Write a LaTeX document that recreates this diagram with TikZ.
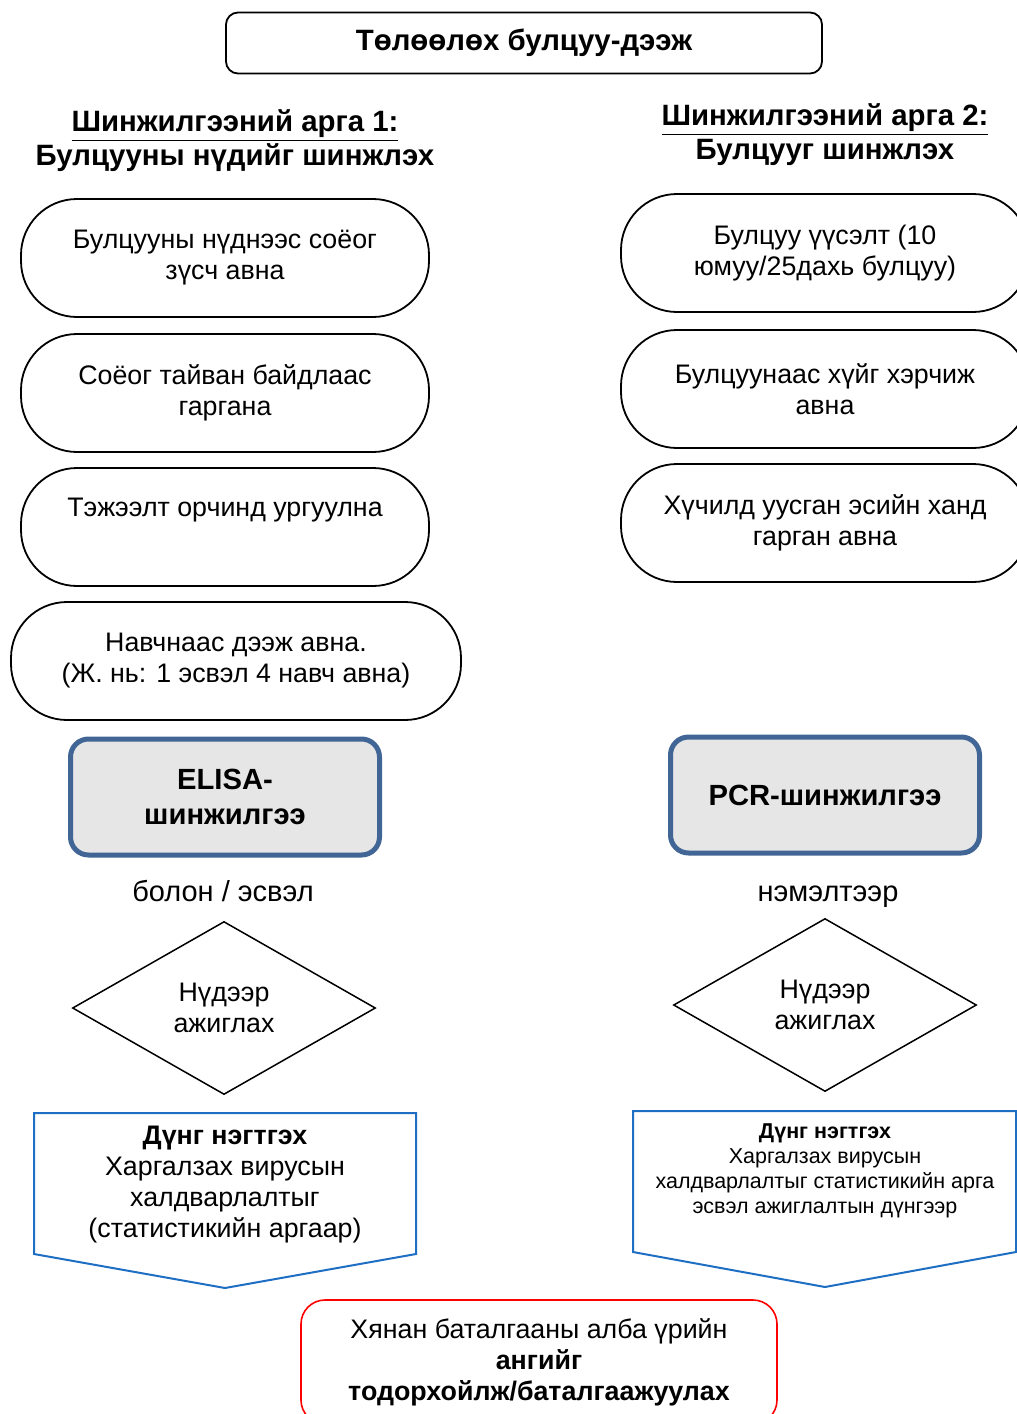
\documentclass[tikz,border=0pt]{standalone}
\usepackage{fontspec}
\setmainfont{Liberation Sans}
\usepackage{tikz}
\usetikzlibrary{positioning, shapes.geometric}
\definecolor{frameblue}{RGB}{65,101,148}
\definecolor{arrowblue}{RGB}{30,110,195}
\definecolor{boxgray}{RGB}{230,230,230}

\begin{document}
\begin{tikzpicture}[x=0.5pt, y=-0.5pt,
    txt/.style={font=\fontsize{13.4}{15.5}\selectfont, align=center},
    pill/.style={txt, draw, line width=0.9pt, rounded corners=28pt, minimum width=204pt, minimum height=59pt, inner sep=2pt},
    testbox/.style={draw=frameblue, line width=2.5pt, fill=boxgray, rounded corners=9pt, minimum width=154.5pt, minimum height=58pt, align=center, font=\fontsize{14.6}{17.5}\selectfont\bfseries},
    look/.style={txt, draw, diamond, line width=0.75pt, minimum width=151.5pt, minimum height=86.5pt, inner sep=0pt},
    head/.style={align=center, font=\fontsize{14.7}{17}\selectfont\bfseries},
    note/.style={anchor=base, font=\fontsize{14.5}{17}\selectfont}]
    \useasboundingbox (0,0) rectangle (1017,1414);
    \clip (0,0) rectangle (1017,1414);

    % 标题
    \node[draw, line width=0.9pt, rounded corners=6pt, minimum width=298pt, minimum height=30.5pt,
          font=\fontsize{14.7}{17}\selectfont\bfseries] (title) at (524,43) {Төлөөлөх булцуу-дээж};

    % 方法 1
    \node[head] (head1) at (235,141) {\underline{Шинжилгээний арга 1:}\\Булцууны нүдийг шинжлэх};
    \node[pill] (a1) at (225,258) {Булцууны нүднээс соёог\\зүсч авна};
    \node[pill] (a2) at (225,393) {Соёог тайван байдлаас\\гаргана};
    \node[pill] (a3) at (225,527) {Тэжээлт орчинд ургуулна\\\strut};
    \node[pill, minimum width=225pt] (a4) at (236,661) {Навчнаас дээж авна.\\(Ж. нь: 1 эсвэл 4 навч авна)};
    \node[testbox] (elisa) at (225,797) {ELISA-\\шинжилгээ};
    \node[note] (and1) at (223,901) {болон / эсвэл};
    \node[look] (eye1) at (224,1008) {Нүдээр\\ажиглах};

    % 方法 2
    \node[head] (head2) at (825,135) {\underline{Шинжилгээний арга 2:}\\Булцууг шинжлэх};
    \node[pill] (b1) at (825,253) {Булцуу үүсэлт (10\\юмуу/25дахь булцуу)};
    \node[pill] (b2) at (825,389) {Булцуунаас хүйг хэрчиж\\авна};
    \node[pill] (b3) at (825,523) {Хүчилд уусган эсийн ханд\\гарган авна};
    \node[testbox] (pcr) at (825,795) {PCR-шинжилгээ};
    \node[note] (and2) at (828,901) {нэмэлтээр};
    \node[look] (eye2) at (825,1005) {Нүдээр\\ажиглах};

    % 结果
    \draw[arrowblue, line width=1pt] (34,1113) -- (416,1113) -- (416,1254) -- (225,1288) -- (34,1254) -- cycle;
    \node[txt] (sum1) at (225,1185) {\textbf{Дүнг нэгтгэх}\\Харгалзах вирусын\\халдварлалтыг\\(статистикийн аргаар)};
    \draw[arrowblue, line width=1pt] (633,1111) -- (1016,1111) -- (1016,1252) -- (825,1287) -- (633,1252) -- cycle;
    \node[align=center, font=\fontsize{10.75}{12.5}\selectfont] (sum2) at (825,1171)
        {\textbf{Дүнг нэгтгэх}\\Харгалзах вирусын\\халдварлалтыг статистикийн арга\\эсвэл ажиглалтын дүнгээр};

    % 最终
    \node[txt, draw=red, line width=0.8pt, rounded corners=12pt, minimum width=238pt, minimum height=62pt] (final) at (539,1362)
        {Хянан баталгааны алба үрийн\\\textbf{ангийг}\\\textbf{тодорхойлж/баталгаажуулах}};
\end{tikzpicture}
\end{document}
